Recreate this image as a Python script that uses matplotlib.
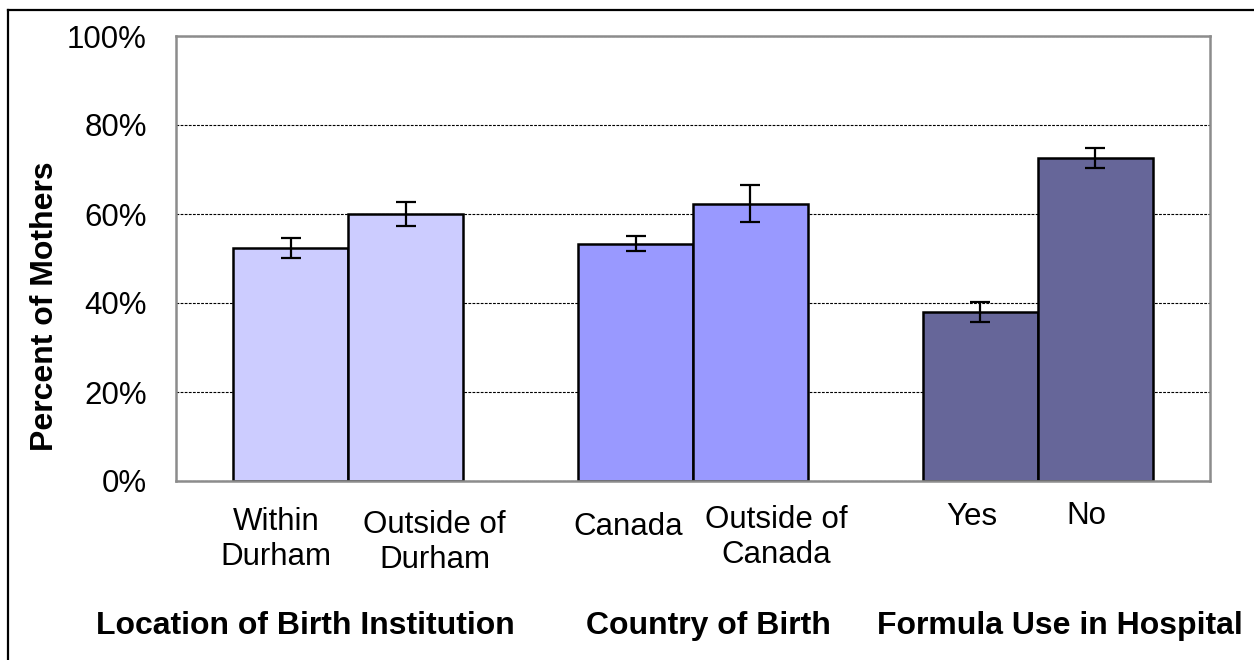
import matplotlib
matplotlib.use("Agg")
import matplotlib.pyplot as plt
from matplotlib.transforms import blended_transform_factory
from matplotlib.lines import Line2D

plt.rcParams['font.family'] = ['Liberation Sans', 'DejaVu Sans']

# ---- data ----
groups = ["Location of Birth Institution", "Country of Birth", "Formula Use in Hospital"]
categories = ["Within\nDurham", "Outside of\nDurham", "Canada", "Outside of\nCanada", "Yes", "No"]
values = [52.3, 60.0, 53.3, 62.3, 38.0, 72.6]
errors = [2.2, 2.8, 1.7, 4.2, 2.3, 2.2]
group_colors = ["#CCCCFF", "#9999FF", "#666699"]
yticks = [0, 20, 40, 60, 80, 100]
ytick_labels = ["0%", "20%", "40%", "60%", "80%", "100%"]
ylabel = "Percent of Mothers"

# ---- layout (style) ----
W, H = 1254, 660
fig = plt.figure(figsize=(W / 100, H / 100), dpi=100)
ax = fig.add_axes([176 / W, 1 - 481 / H, (1210 - 176) / W, (481 - 36) / H])

bar_w = 1 / 3
xs = []
cols = []
for gi in range(len(groups)):
    for j in range(2):
        xs.append(gi + 0.5 + (j - 0.5) * bar_w)
        cols.append(group_colors[gi])

ax.bar(xs, values, width=bar_w, color=cols, edgecolor="black", linewidth=1.8, zorder=2)
ax.errorbar(xs, values, yerr=errors, fmt="none", ecolor="black", elinewidth=1.6,
            capsize=7, capthick=1.6, zorder=3)

ax.set_xlim(0, 3)
ax.set_ylim(0, 100)
ax.set_yticks(yticks)
ax.set_yticklabels(ytick_labels, fontsize=22.5)
ax.tick_params(axis="y", length=0, pad=21)
ax.set_xticks([])
ax.set_axisbelow(True)
ax.yaxis.grid(True, color="black", linestyle=(0, (2.5, 1.2)), linewidth=0.8)
for s in ax.spines.values():
    s.set_color("#8c8c8c")
    s.set_linewidth(1.8)

ax.set_ylabel(ylabel, fontsize=23, fontweight="bold")
ax.yaxis.set_label_coords(-0.112, 0.393)

# category labels (textbox offsets / vertical tops in pixels)
label_dx = [-0.043, 0.084, -0.02, 0.074, -0.024, -0.024]
label_top = [507, 510, 512, 505, 502, 501]
tr = blended_transform_factory(ax.transData, fig.transFigure)
for x, lab, dx, top in zip(xs, categories, label_dx, label_top):
    ax.text(x + dx, 1 - top / H, lab, transform=tr, ha="center", va="top",
            fontsize=22.5, linespacing=1.2, clip_on=False)

group_x = [0.374, 1.546, 2.565]
for gx, g in zip(group_x, groups):
    ax.text(gx, 1 - 611 / H, g, transform=tr, ha="center", va="top",
            fontsize=23, fontweight="bold", clip_on=False)

# outer frame (partially visible in reference)
fig.add_artist(Line2D([8 / W, 1], [1 - 10 / H, 1 - 10 / H], transform=fig.transFigure,
                      color="black", linewidth=1.6))
fig.add_artist(Line2D([8 / W, 8 / W], [0, 1 - 10 / H], transform=fig.transFigure,
                      color="black", linewidth=1.6))

fig.savefig("out.png", dpi=100)
